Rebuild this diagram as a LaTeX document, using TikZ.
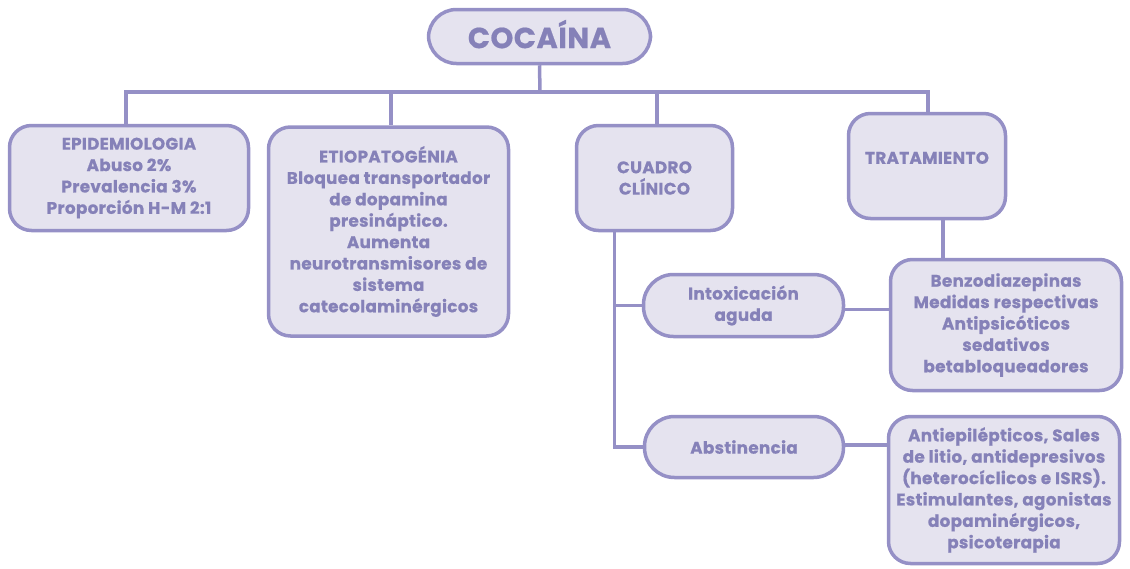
\documentclass[tikz,border=0pt]{standalone}
\usepackage{fontspec}
\setmainfont{Poppins}[BoldFeatures={FakeBold=0.6}, LetterSpace=1.8]
\usetikzlibrary{backgrounds}
\definecolor{bord}{HTML}{9590C6}
\definecolor{fillc}{HTML}{E5E3EF}
\definecolor{txt}{HTML}{8581B8}
\tikzset{
  box/.style={draw=bord, fill=fillc, line width=3.5pt, rounded corners=22pt, inner sep=0pt,
    align=center, text=txt, font=\bfseries\fontsize{16.8}{21.4}\selectfont},
  pill/.style={box, rounded corners=30pt},
  conn/.style={draw=bord, line width=3.5pt}
}
\begin{document}
\begin{tikzpicture}[x=1pt,y=-1pt]
\useasboundingbox (0,0) rectangle (1130,568);
\coordinate (bus) at (540,92);
\node[box, rounded corners=28pt, minimum width=222pt, minimum height=54pt, font=\bfseries\fontsize{29}{33}\selectfont] (coc) at (539.5,36.5) {\raisebox{5pt}{COCAÍNA}};
\node[box, minimum width=239pt, minimum height=105pt] (epi) at (129,178) {EPIDEMIOLOGIA\\Abuso 2\%\\Prevalencia 3\%\\Proporción H-M 2:1};
\node[box, minimum width=240pt, minimum height=209pt] (etio) at (388.5,231.5) {ETIOPATOGÉNIA\\Bloquea transportador\\de dopamina\\presináptico.\\Aumenta\\neurotransmisores de\\sistema\\catecolaminérgicos};
\node[box, minimum width=156pt, minimum height=105pt] (cua) at (654.5,178) {CUADRO\\CLÍNICO};
\node[box, minimum width=157pt, minimum height=105pt] (trat) at (927,166) {TRATAMIENTO\\[-5pt]~};
\node[pill, minimum width=200pt, minimum height=62pt] (intox) at (743.5,305.5) {Intoxicación\\aguda};
\node[pill, minimum width=199pt, minimum height=61pt] (abs) at (744,447) {Abstinencia};
\node[box, minimum width=231pt, minimum height=131pt] (benzo) at (1006,325) {Benzodiazepinas\\Medidas respectivas\\Antipsicóticos\\sedativos\\betabloqueadores};
\node[box, minimum width=231pt, minimum height=147pt] (anti) at (1004,490) {Antiepilépticos, Sales\\de litio, antidepresivos\\(heterocíclicos e ISRS).\\Estimulantes, agonistas\\dopaminérgicos,\\psicoterapia};
\begin{scope}[on background layer]
\draw[conn] (coc.south) -- (bus);
\draw[conn] (bus) -| ([xshift=-3pt]epi.north);
\draw[conn] (bus) -| ([xshift=2.5pt]etio.north);
\draw[conn] (bus) -| ([xshift=2.5pt]cua.north);
\draw[conn] (bus) -| ([xshift=1pt]trat.north);
\draw[conn] ([xshift=-40pt]cua.south) |- (intox.west);
\draw[conn] ([xshift=-40pt]cua.south) |- (abs.west);
\draw[conn] ([xshift=16pt]trat.south) -- ([xshift=16pt]trat.south |- benzo.north);
\draw[conn] ([yshift=-4pt]intox.east) -- ([yshift=-4pt]intox.east -| benzo.west);
\draw[conn] ([yshift=2pt]abs.east) -- ([yshift=2pt]abs.east -| anti.west);
\end{scope}
\end{tikzpicture}
\end{document}
